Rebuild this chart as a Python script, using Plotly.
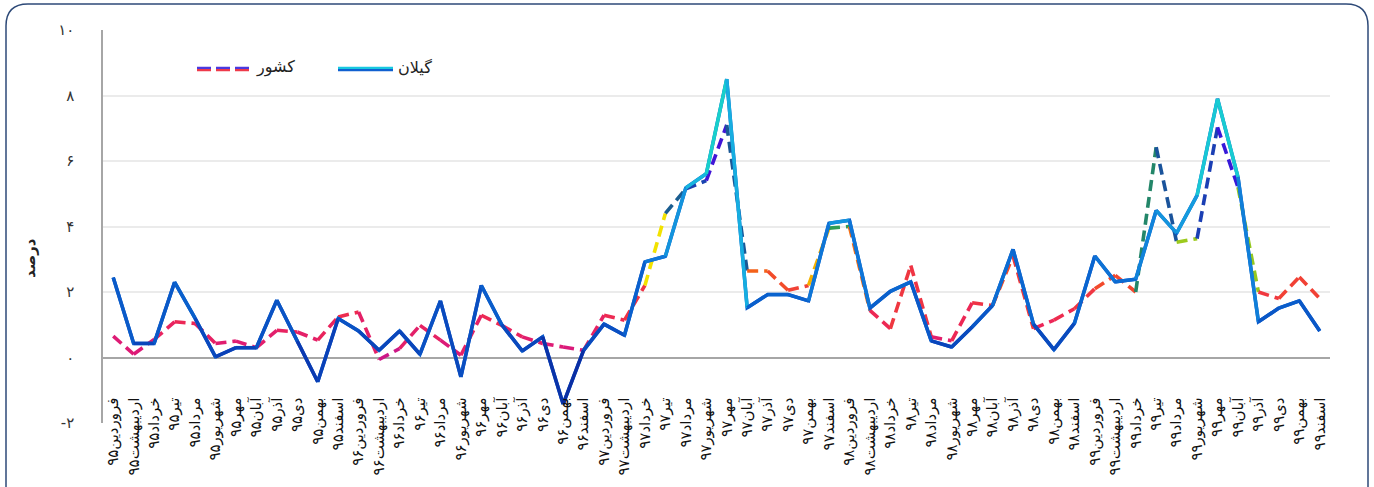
import numpy as np
import plotly.graph_objects as go

months = ["فروردین", "اردیبهشت", "خرداد", "تیر", "مرداد", "شهریور",
          "مهر", "آبان", "آذر", "دی", "بهمن", "اسفند"]
years = ["۹۵", "۹۶", "۹۷", "۹۸", "۹۹"]
categories = [m + y for y in years for m in months]

gilan = [2.44, 0.43, 0.43, 2.3, 1.2, 0.02, 0.3, 0.3, 1.75, 0.5, -0.74, 1.19,
         0.81, 0.22, 0.81, 0.1, 1.73, -0.59, 2.2, 1.0, 0.2, 0.63, -1.42, 0.22,
         1.02, 0.68, 2.92, 3.09, 5.18, 5.61, 8.5, 1.52, 1.92, 1.92, 1.73, 4.1,
         4.19, 1.51, 2.02, 2.31, 0.51, 0.32, 0.93, 1.59, 3.3, 1.02, 0.24, 1.04,
         3.1, 2.31, 2.39, 4.49, 3.8, 4.95, 7.9, 5.51, 1.09, 1.51, 1.73, 0.81]
country = [0.65, 0.1, 0.55, 1.09, 1.04, 0.43, 0.5, 0.3, 0.83, 0.78, 0.53, 1.24,
           1.39, -0.06, 0.27, 0.98, 0.53, 0.07, 1.29, 0.98, 0.63, 0.43, 0.32, 0.22,
           1.29, 1.14, 2.2, 4.4, 5.15, 5.4, 7.1, 2.64, 2.64, 2.05, 2.2, 3.95,
           4.0, 1.44, 0.88, 2.81, 0.63, 0.51, 1.67, 1.59, 3.1, 0.88, 1.14, 1.49,
           2.1, 2.51, 2.0, 6.42, 3.52, 3.63, 7.03, 5.2, 2.0, 1.8, 2.46, 1.8]

ytick_vals = [-2, 0, 2, 4, 6, 8, 10]
ytick_text = ["-۲", "۰", "۲", "۴", "۶", "۸", "۱۰"]
series_names = ["گیلان", "کشور"]
y_title = "درصد"

FONT = "DejaVu Sans"

gilan_stops = [(-1.5, "#0b1a8c"), (0, "#0a3cb4"), (1, "#0a52c4"), (2, "#0a64cf"),
               (3, "#0f78d8"), (4, "#1290dc"), (5, "#16aee0"), (6, "#18c2dc"),
               (7, "#18d0cc"), (8.5, "#18dcb0")]
country_stops = [(-0.2, "#b4129c"), (0.3, "#dc1a78"), (1.0, "#ec2658"), (2.0, "#f03a3c"),
                 (2.6, "#f45a1c"), (3.0, "#f6a000"), (3.3, "#f2e200"), (3.6, "#94c820"),
                 (4.0, "#2a9a58"), (4.5, "#1a6a80"), (5.2, "#1a48a8"), (5.8, "#1e1ee0"),
                 (6.5, "#5510d0"), (7.2, "#8a10b8")]


def make_cmap(stops):
    vals = np.array([s[0] for s in stops], dtype=float)
    cols = np.array([[int(s[1][i:i + 2], 16) for i in (1, 3, 5)] for s in stops], dtype=float)

    def f(v):
        c = [int(round(np.interp(v, vals, cols[:, k]))) for k in range(3)]
        return "rgb(%d,%d,%d)" % tuple(c)
    return f


gcol = make_cmap(gilan_stops)
ccol = make_cmap(country_stops)

x = list(range(len(categories)))
fig = go.Figure()

# country (dashed) segments
for i in range(len(x) - 1):
    fig.add_trace(go.Scatter(
        x=[x[i], x[i + 1]], y=[country[i], country[i + 1]], mode="lines",
        line=dict(color=ccol((country[i] + country[i + 1]) / 2), width=3.6, dash="11px,6px"),
        hoverinfo="skip", showlegend=False))

# gilan base + segments
fig.add_trace(go.Scatter(x=x, y=gilan, mode="lines", line=dict(color="#0a5ccc", width=3.5),
                         hoverinfo="skip", showlegend=False))
for i in range(len(x) - 1):
    fig.add_trace(go.Scatter(
        x=[x[i], x[i + 1]], y=[gilan[i], gilan[i + 1]], mode="lines",
        line=dict(color=gcol((gilan[i] + gilan[i + 1]) / 2), width=3.5),
        hoverinfo="skip", showlegend=False))

# plot area in screen pixels
PL, PR, PT, PB = 103, 1330, 30, 423
W, H = 1374, 487


def px(v):
    return (v - PL) / (PR - PL)


def py(v):
    return (PB - v) / (PB - PT)


shapes = []
# rounded border
L, R, T, B = px(6), px(1368), py(4), py(530)
rx, ry = 22 / (PR - PL), 22 / (PB - PT)
path = (f"M {L},{B} L {L},{T - ry} Q {L},{T} {L + rx},{T} "
        f"L {R - rx},{T} Q {R},{T} {R},{T - ry} L {R},{B}")
shapes.append(dict(type="path", path=path, xref="paper", yref="paper",
                   line=dict(color="#2e4a78", width=1.5), layer="below"))
# legend samples
shapes.append(dict(type="line", xref="paper", yref="paper", x0=px(197), x1=px(250), y0=py(67.8), y1=py(67.8),
                   line=dict(color="#4b3adf", width=2.2, dash="14px,5px")))
shapes.append(dict(type="line", xref="paper", yref="paper", x0=px(197), x1=px(250), y0=py(70.2), y1=py(70.2),
                   line=dict(color="#ee3a4a", width=2.2, dash="14px,5px")))
shapes.append(dict(type="line", xref="paper", yref="paper", x0=px(338), x1=px(393), y0=py(67.8), y1=py(67.8),
                   line=dict(color="#18c8e0", width=2.2)))
shapes.append(dict(type="line", xref="paper", yref="paper", x0=px(338), x1=px(393), y0=py(70.2), y1=py(70.2),
                   line=dict(color="#1060d0", width=2.2)))

annotations = [
    dict(text=series_names[1], x=px(254), y=py(67), xref="paper", yref="paper", xanchor="left",
         yanchor="middle", showarrow=False, font=dict(family=FONT, size=16, color="#222")),
    dict(text=series_names[0], x=px(396), y=py(67), xref="paper", yref="paper", xanchor="left",
         yanchor="middle", showarrow=False, font=dict(family=FONT, size=16, color="#222")),
    dict(text="<b>" + y_title + "</b>", x=px(30), y=py(258), xref="paper", yref="paper",
         xanchor="center", yanchor="middle", textangle=-90, showarrow=False,
         font=dict(family=FONT, size=15, color="#222")),
]

fig.update_layout(
    width=W, height=H,
    margin=dict(l=PL, r=W - PR, t=PT, b=H - PB, autoexpand=False),
    paper_bgcolor="white", plot_bgcolor="rgba(0,0,0,0)",
    showlegend=False, shapes=shapes, annotations=annotations,
)
fig.update_xaxes(range=[-0.5, 59.5], tickmode="array", tickvals=x, ticktext=categories,
                 tickangle=-90, anchor="free", position=0.075, showline=False, showgrid=False,
                 zeroline=False, ticks="", automargin=False,
                 tickfont=dict(family=FONT, size=15, color="#111"))
fig.update_yaxes(range=[-2, 10], tickmode="array", tickvals=ytick_vals, ticktext=ytick_text,
                 showgrid=True, gridcolor="#ebebeb", gridwidth=1.5,
                 zeroline=True, zerolinecolor="#a6a6a6", zerolinewidth=1.5,
                 showline=True, linecolor="#a6a6a6", linewidth=1.5, ticks="",
                 ticklabelstandoff=24, automargin=False,
                 tickfont=dict(family=FONT, size=15, color="#333"))

fig.write_html("out.html", config={"displayModeBar": False},
               post_script="document.body.style.margin='0px';")
